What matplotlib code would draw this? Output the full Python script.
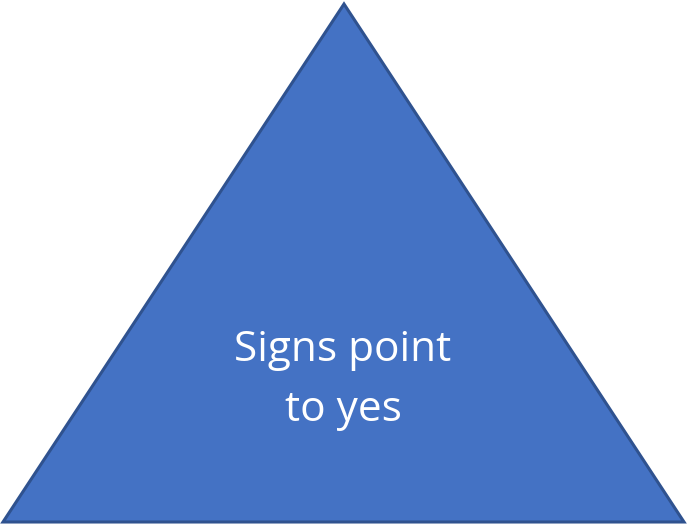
import matplotlib
matplotlib.use('Agg')
import matplotlib.pyplot as plt
from matplotlib.patches import Polygon

# triangle corners in pixel space
tri_x = [344, 684, 3]
tri_y = [4, 522, 522]
label = "Signs point\nto yes"

fig = plt.figure(figsize=(6.88, 5.27), dpi=100)
ax = fig.add_axes([0, 0, 1, 1])
ax.set_xlim(0, 688)
ax.set_ylim(527, 0)
ax.axis('off')

ax.add_patch(Polygon(list(zip(tri_x, tri_y)), closed=True,
                     facecolor='#4472C4', edgecolor='#2F528F', linewidth=2.2))
ax.text(343, 380, label, ha='center', va='center', color='white',
        fontsize=30.5, family='Open Sans', linespacing=1.55)

fig.savefig('out.png', dpi=100)
